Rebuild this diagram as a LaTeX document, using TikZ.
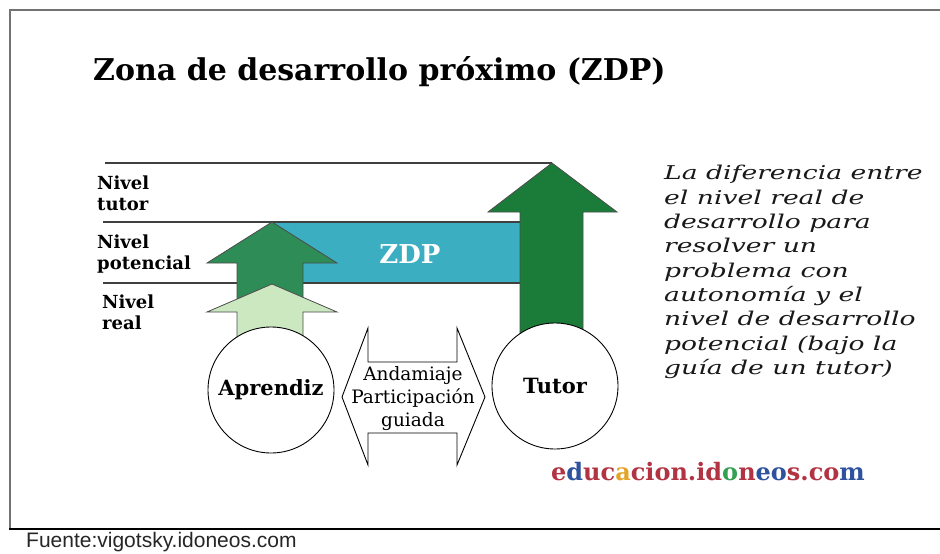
\documentclass[tikz,border=0pt]{standalone}
\usepackage{fontspec}
\usepackage{xcolor}
\setmainfont{DejaVu Serif}
\newfontfamily\descfont[FakeStretch=1.4]{DejaVu Serif}
\newfontfamily\logofont[LetterSpace=10]{DejaVu Serif}
\newfontfamily\srcfont{Liberation Sans}

\definecolor{zdpblue}{RGB}{60,174,194}
\definecolor{potgreen}{RGB}{46,140,86}
\definecolor{realgreen}{RGB}{204,232,192}
\definecolor{tutgreen}{RGB}{26,124,56}
\definecolor{lred}{RGB}{178,52,66}
\definecolor{lblue}{RGB}{46,82,158}
\definecolor{lorange}{RGB}{228,164,40}
\definecolor{lgreen}{RGB}{52,160,84}

\tikzset{
  levelline/.style={draw=black!75, line width=1.6pt},
  bigarrow/.style={draw=black!70, line width=0.8pt},
  person/.style={circle, draw, fill=white, line width=0.9pt, minimum size=126pt,
    font=\fontsize{21}{24}\selectfont\bfseries},
  levellabel/.style={anchor=west, align=left, inner sep=0pt,
    font=\fontsize{18}{21}\selectfont\bfseries}
}
\newcommand{\lc}[2]{\textcolor{#1}{#2}}

\begin{document}
\begin{tikzpicture}[x=1pt, y=-1pt]
    \useasboundingbox (0,0) rectangle (940,554);
    \fill[white] (0,0) rectangle (940,554);
    \draw[black!55, line width=1.6pt] (10,529) -- (10,10) -- (940,10);
    \draw[black, line width=2.2pt] (9,529) -- (940,529);

    \node[anchor=west, inner sep=0pt, font=\fontsize{30}{34}\selectfont\bfseries] (title)
        at (93,72) {Zona de desarrollo próximo (ZDP)};

    \fill[zdpblue] (270,222) rectangle (520,283);
    \draw[levelline] (105,163) -- (552,163);
    \draw[levelline] (103,222) -- (520,222);
    \draw[levelline] (103,283) -- (520,283);
    \node[text=white, font=\fontsize{26}{30}\selectfont\bfseries] (zdp) at (410,254) {ZDP};

    \node[levellabel] (nivtutor) at (97,193) {Nivel\\tutor};
    \node[levellabel] (nivpot) at (97,254) {Nivel\\potencial};
    \node[levellabel] (nivreal) at (102,312) {Nivel\\real};

    \draw[bigarrow, fill=tutgreen] (552,163) -- (617,212) -- (583,212) -- (583,340)
        -- (520,340) -- (520,212) -- (488,212) -- cycle;
    \draw[bigarrow, fill=potgreen] (272,222) -- (337,263) -- (303,263) -- (303,300)
        -- (237,300) -- (237,263) -- (207,263) -- cycle;
    \draw[bigarrow, fill=realgreen] (272,284) -- (337,312) -- (303,312) -- (303,340)
        -- (237,340) -- (237,312) -- (207,312) -- cycle;

    \node[person] (aprendiz) at (271,390) {Aprendiz};
    \node[person] (tutor) at (555,386) {Tutor};

    \draw[fill=white, line width=0.9pt] (342,397) -- (368,328) -- (368,362) -- (457,362)
        -- (457,328) -- (485,397) -- (457,465) -- (457,433) -- (368,433) -- (368,465) -- cycle;
    \node[align=center, font=\fontsize{18.5}{23}\selectfont] (ayuda) at (413,399)
        {Andamiaje\\Participación\\guiada};

    \node[anchor=west, align=left, inner sep=0pt, text=black!90,
        font=\descfont\itshape\fontsize{19}{24.3}\selectfont] (definicion) at (664,272)
        {La diferencia entre\\el nivel real de\\desarrollo para\\resolver un\\problema con\\
         autonomía y el\\nivel de desarrollo\\potencial (bajo la\\guía de un tutor)};

    \node[font=\logofont\bfseries\fontsize{24}{27}\selectfont] (logo) at (708,472)
        {\lc{lred}{e}\lc{lblue}{d}\lc{lred}{u}\lc{lred}{c}\lc{lorange}{a}\lc{lred}{c}%
         \lc{lred}{i}\lc{lred}{o}\lc{lred}{n}\lc{lred}{.}\lc{lred}{i}\lc{lred}{d}%
         \lc{lgreen}{o}\lc{lred}{n}\lc{lblue}{e}\lc{lblue}{o}\lc{lred}{s}\lc{lred}{.}%
         \lc{lred}{c}\lc{lred}{o}\lc{lblue}{m}};

    \node[anchor=west, inner sep=0pt, text=black!85, font=\srcfont\fontsize{21}{24}\selectfont]
        (fuente) at (26,542) {Fuente:vigotsky.idoneos.com};
\end{tikzpicture}
\end{document}
